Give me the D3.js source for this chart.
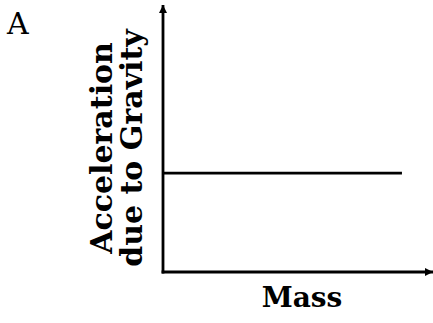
<!DOCTYPE html>
<html><head><meta charset="utf-8">
<script src="https://cdn.jsdelivr.net/npm/d3@7"></script>
<style>html,body{margin:0;padding:0;background:#fff;}svg{display:block;}</style>
</head><body>
<script>
// Data
const panelLabel = ["A"];
const xLabel = ["Mass"];
const yLabelLines = ["Acceleration", "due to Gravity"];
const massValues = [0, 8.85];
const gravityValues = [3.7, 3.7];

const W = 433, H = 323;
const svg = d3.select("body").append("svg").attr("width", W).attr("height", H);

const x = d3.scaleLinear().domain([0, 10]).range([163, 433]);
const y = d3.scaleLinear().domain([0, 10]).range([272, 5]);

const defs = svg.append("defs");
defs.append("marker").attr("id", "arrY").attr("viewBox", "0 0 10 10")
  .attr("refX", 10).attr("refY", 5).attr("markerWidth", 13).attr("markerHeight", 8)
  .attr("markerUnits", "userSpaceOnUse").attr("orient", "auto")
  .append("path").attr("d", "M0,0L10,5L0,10Z").attr("fill", "#000");

const sw = 2.8;
// axes
svg.append("line").attr("x1", x(0)).attr("y1", y(0) + sw / 2).attr("x2", x(0)).attr("y2", y(10))
  .attr("stroke", "#000").attr("stroke-width", sw).attr("marker-end", "url(#arrY)");
svg.append("line").attr("x1", x(0) - sw / 2).attr("y1", y(0)).attr("x2", x(10)).attr("y2", y(0))
  .attr("stroke", "#000").attr("stroke-width", sw).attr("marker-end", "url(#arrY)");

// data line
const line = d3.line().x((d, i) => x(massValues[i])).y(d => y(d));
svg.append("path").datum(gravityValues).attr("d", line)
  .attr("fill", "none").attr("stroke", "#000").attr("stroke-width", sw);

// labels
svg.append("text").text(panelLabel[0]).attr("x", 7).attr("y", 34)
  .attr("font-family", "DejaVu Serif").attr("font-size", 30);

svg.append("text").text(xLabel[0]).attr("x", 302).attr("y", 307)
  .attr("text-anchor", "middle").attr("font-family", "DejaVu Serif")
  .attr("font-weight", "bold").attr("font-size", 28);

const yl = svg.append("g").attr("transform", "translate(112,148) rotate(-90)");
yLabelLines.forEach((t, i) => {
  yl.append("text").text(t).attr("x", 0).attr("y", i * 29.5)
    .attr("text-anchor", "middle").attr("font-family", "DejaVu Serif")
    .attr("font-weight", "bold").attr("font-size", 30);
});
</script>
</body></html>
